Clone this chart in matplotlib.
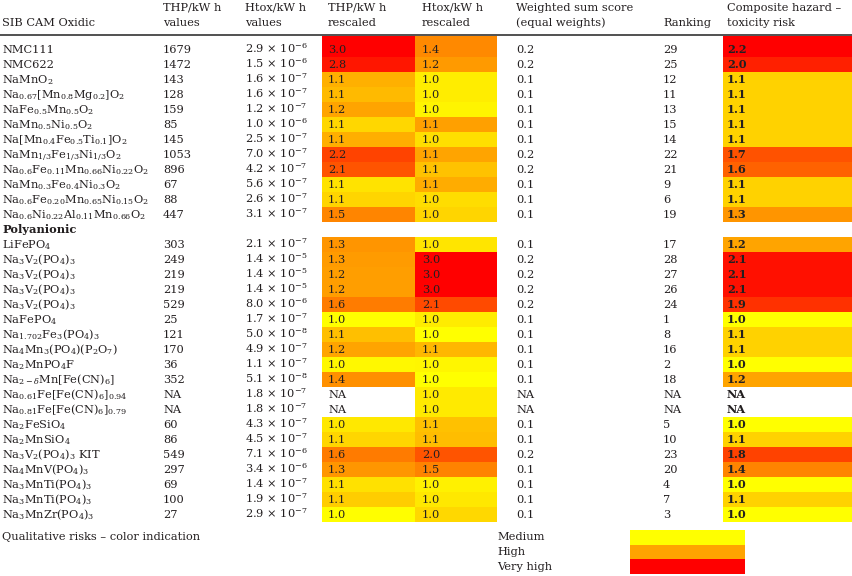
import matplotlib
matplotlib.use("Agg")
from matplotlib import pyplot as plt
from matplotlib.colors import LinearSegmentedColormap, TwoSlopeNorm
from matplotlib.patches import Rectangle

plt.rcParams['font.family'] = ['DejaVu Serif']
plt.rcParams['mathtext.fontset'] = 'dejavuserif'

oxidic_names = [
    'NMC111', 'NMC622', r'NaMnO$_2$', r'Na$_{0.67}$[Mn$_{0.8}$Mg$_{0.2}$]O$_2$',
    r'NaFe$_{0.5}$Mn$_{0.5}$O$_2$', r'NaMn$_{0.5}$Ni$_{0.5}$O$_2$',
    r'Na[Mn$_{0.4}$Fe$_{0.5}$Ti$_{0.1}$]O$_2$', r'NaMn$_{1/3}$Fe$_{1/3}$Ni$_{1/3}$O$_2$',
    r'Na$_{0.6}$Fe$_{0.11}$Mn$_{0.66}$Ni$_{0.22}$O$_2$', r'NaMn$_{0.3}$Fe$_{0.4}$Ni$_{0.3}$O$_2$',
    r'Na$_{0.6}$Fe$_{0.20}$Mn$_{0.65}$Ni$_{0.15}$O$_2$', r'Na$_{0.6}$Ni$_{0.22}$Al$_{0.11}$Mn$_{0.66}$O$_2$',
]
poly_names = [
    r'LiFePO$_4$', r'Na$_3$V$_2$(PO$_4$)$_3$', r'Na$_3$V$_2$(PO$_4$)$_3$', r'Na$_3$V$_2$(PO$_4$)$_3$',
    r'Na$_3$V$_2$(PO$_4$)$_3$', r'NaFePO$_4$', r'Na$_{1.702}$Fe$_3$(PO$_4$)$_3$',
    r'Na$_4$Mn$_3$(PO$_4$)(P$_2$O$_7$)', r'Na$_2$MnPO$_4$F', r'Na$_{2-\delta}$Mn[Fe(CN)$_6$]',
    r'Na$_{0.61}$Fe[Fe(CN)$_6$]$_{0.94}$', r'Na$_{0.81}$Fe[Fe(CN)$_6$]$_{0.79}$',
    r'Na$_2$FeSiO$_4$', r'Na$_2$MnSiO$_4$', r'Na$_3$V$_2$(PO$_4$)$_3$ KIT', r'Na$_4$MnV(PO$_4$)$_3$',
    r'Na$_3$MnTi(PO$_4$)$_3$', r'Na$_3$MnTi(PO$_4$)$_3$', r'Na$_3$MnZr(PO$_4$)$_3$',
]

# None = NA
thp_values = [1679, 1472, 143, 128, 159, 85, 145, 1053, 896, 67, 88, 447,
              303, 249, 219, 219, 529, 25, 121, 170, 36, 352, None, None, 60, 86, 549, 297, 69, 100, 27]
htox_values = [2.9e-6, 1.5e-6, 1.6e-7, 1.6e-7, 1.2e-7, 1.0e-6, 2.5e-7, 7.0e-7, 4.2e-7, 5.6e-7, 2.6e-7, 3.1e-7,
               2.1e-7, 1.4e-5, 1.4e-5, 1.4e-5, 8.0e-6, 1.7e-7, 5.0e-8, 4.9e-7, 1.1e-7, 5.1e-8, 1.8e-7, 1.8e-7,
               4.3e-7, 4.5e-7, 7.1e-6, 3.4e-6, 1.4e-7, 1.9e-7, 2.9e-7]
thp_rescaled = [3.0, 2.8, 1.1, 1.1, 1.2, 1.1, 1.1, 2.2, 2.1, 1.1, 1.1, 1.5,
                1.3, 1.3, 1.2, 1.2, 1.6, 1.0, 1.1, 1.2, 1.0, 1.4, None, None, 1.0, 1.1, 1.6, 1.3, 1.1, 1.1, 1.0]
htox_rescaled = [1.4, 1.2, 1.0, 1.0, 1.0, 1.1, 1.0, 1.1, 1.1, 1.1, 1.0, 1.0,
                 1.0, 3.0, 3.0, 3.0, 2.1, 1.0, 1.0, 1.1, 1.0, 1.0, 1.0, 1.0, 1.1, 1.1, 2.0, 1.5, 1.0, 1.0, 1.0]
weighted = [0.2, 0.2, 0.1, 0.1, 0.1, 0.1, 0.1, 0.2, 0.2, 0.1, 0.1, 0.1,
            0.1, 0.2, 0.2, 0.2, 0.2, 0.1, 0.1, 0.1, 0.1, 0.1, None, None, 0.1, 0.1, 0.2, 0.1, 0.1, 0.1, 0.1]
ranking = [29, 25, 12, 11, 13, 15, 14, 22, 21, 9, 6, 19,
           17, 28, 27, 26, 24, 1, 8, 16, 2, 18, None, None, 5, 10, 23, 20, 4, 7, 3]
composite = [2.2, 2.0, 1.1, 1.1, 1.1, 1.1, 1.1, 1.7, 1.6, 1.1, 1.1, 1.3,
             1.2, 2.1, 2.1, 2.1, 1.9, 1.0, 1.1, 1.1, 1.0, 1.2, None, None, 1.0, 1.1, 1.8, 1.4, 1.0, 1.1, 1.0]

header_cols = [
    ('', 'SIB CAM Oxidic'), ('THP/kW h', 'values'), ('Htox/kW h', 'values'),
    ('THP/kW h', 'rescaled'), ('Htox/kW h', 'rescaled'),
    ('Weighted sum score', '(equal weights)'), ('', 'Ranking'),
    ('Composite hazard –', 'toxicity risk'),
]
legend_labels = ['Medium', 'High', 'Very high']

TXT = '#231f20'
FS = 8.2
col_x = [2, 163, 245, 328, 422, 516, 663, 727]
cell_x = {3: (322, 415), 4: (415, 497), 7: (723, 852)}

risk = LinearSegmentedColormap.from_list('risk', ['#ffff00', '#ffa500', '#ff0000'])
thp_known = [v for v in thp_values if v is not None]
norm_thp = TwoSlopeNorm(vmin=min(thp_known), vcenter=159, vmax=max(thp_known))
norm_htox = TwoSlopeNorm(vmin=min(htox_values), vcenter=6e-7, vmax=max(htox_values))
comp_known = [v for v in composite if v is not None]
norm_comp = TwoSlopeNorm(vmin=min(comp_known), vcenter=1.2, vmax=max(comp_known))


def sci(v):
    m, e = f'{v:.1e}'.split('e')
    return f'{m} × 10$^{{{int(e)}}}$'


def fmt(v, nd=1):
    return 'NA' if v is None else f'{v:.{nd}f}'


fig = plt.figure(figsize=(8.53, 5.76), dpi=100)
ax = fig.add_axes([0, 0, 1, 1])
ax.set_xlim(0, 853)
ax.set_ylim(576, 0)
ax.axis('off')

# header
for x, (l1, l2) in zip(col_x, header_cols):
    if l1:
        ax.text(x, 11, l1, fontsize=FS, color=TXT, va='baseline')
    ax.text(x, 26, l2, fontsize=FS, color=TXT, va='baseline')
ax.plot([0, 853], [35, 35], color='#333333', lw=1.2)

names = oxidic_names + poly_names
row_y = [49 + 15 * i for i in range(len(oxidic_names))] + \
        [49 + 15 * (i + len(oxidic_names) + 1) for i in range(len(poly_names))]
ax.text(2, 49 + 15 * len(oxidic_names) + 4, 'Polyanionic', fontsize=FS, color=TXT,
        va='baseline', fontweight='bold')

for i, y in enumerate(row_y):
    top = 36 if i == 0 else y - 7.5
    bot = y + 7.5
    fills = [(3, thp_values[i], norm_thp), (4, htox_values[i], norm_htox), (7, composite[i], norm_comp)]
    for c, v, nrm in fills:
        if v is None:
            continue
        x0, x1 = cell_x[c]
        ax.add_patch(Rectangle((x0, top), x1 - x0, bot - top, facecolor=risk(nrm(v)), edgecolor='none'))
    b = y + 4
    ax.text(col_x[0], b, names[i], fontsize=FS, color=TXT, va='baseline')
    ax.text(col_x[1], b, 'NA' if thp_values[i] is None else str(thp_values[i]),
            fontsize=FS, color=TXT, va='baseline')
    ax.text(col_x[2], b, sci(htox_values[i]), fontsize=FS, color=TXT, va='baseline')
    ax.text(col_x[3], b, fmt(thp_rescaled[i]), fontsize=FS, color=TXT, va='baseline')
    ax.text(col_x[4], b, fmt(htox_rescaled[i]), fontsize=FS, color=TXT, va='baseline')
    ax.text(col_x[5], b, fmt(weighted[i]), fontsize=FS, color=TXT, va='baseline')
    ax.text(col_x[6], b, 'NA' if ranking[i] is None else str(ranking[i]),
            fontsize=FS, color=TXT, va='baseline')
    ax.text(col_x[7], b, fmt(composite[i]), fontsize=FS, color=TXT, va='baseline', fontweight='bold')

# legend
ax.text(2, 540, 'Qualitative risks – color indication', fontsize=FS, color=TXT, va='baseline')
for k, lab in enumerate(legend_labels):
    ax.text(497, 540 + 15 * k, lab, fontsize=FS, color=TXT, va='baseline')
    ax.add_patch(Rectangle((630, 530 + 14.7 * k), 115, 14.7,
                           facecolor=risk(k / (len(legend_labels) - 1)), edgecolor='none'))

fig.savefig('out.png', dpi=100)
